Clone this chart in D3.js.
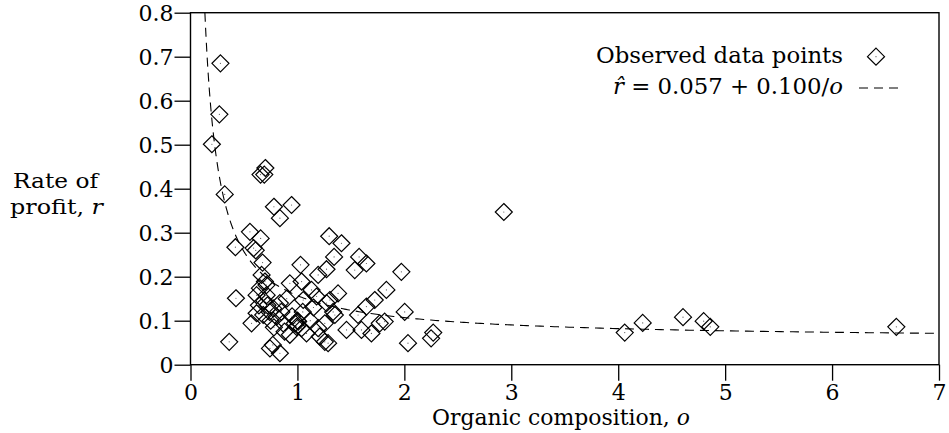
<!DOCTYPE html>
<html><head><meta charset="utf-8">
<script src="https://cdn.jsdelivr.net/npm/d3@7"></script>
<style>
html,body{margin:0;padding:0;background:#fff;}
svg text{font-family:"DejaVu Serif","Liberation Serif","Times New Roman",Times,serif;fill:#000;}
</style></head>
<body><svg id="chart" width="949" height="433"></svg>
<script>
// ---- data ----
const organic = [0.28,0.27,0.20,0.70,0.655,0.69,0.32,
 0.78,0.945,0.836,0.556,0.656,0.42,0.59,0.61,0.674,
 1.297,1.412,1.343,1.272,1.194,1.029,0.929,1.039,1.132,
 1.577,1.645,1.536,1.972,1.832,1.38,0.696,0.665,0.649,
 2.93,
 0.425,0.362,0.836,0.743,0.77,0.571,0.618,0.71,
 0.618,0.712,1.054,1.179,1.303,0.68,0.773,0.836,0.805,0.867,0.976,1.007,0.992,1.039,0.929,1.085,1.194,1.256,1.287,1.209,
 1.723,1.645,1.334,1.272,1.567,1.459,1.599,1.692,1.77,1.816,2.003,2.034,1.256,
 2.27,2.25,
 4.061,4.229,4.606,4.799,4.861,6.601,
 0.72,0.75,0.85,0.90,0.95,1.00,1.05,1.12,1.15,0.78,0.88,0.69,0.74,1.35,0.64];
const profit = [0.685,0.569,0.501,0.447,0.432,0.432,0.387,
 0.359,0.363,0.333,0.302,0.287,0.267,0.265,0.260,0.232,
 0.292,0.276,0.245,0.217,0.204,0.227,0.185,0.189,0.170,
 0.245,0.230,0.215,0.211,0.170,0.162,0.189,0.204,0.174,
 0.347,
 0.151,0.052,0.026,0.037,0.045,0.094,0.117,0.181,
 0.158,0.158,0.147,0.155,0.147,0.113,0.128,0.140,0.109,0.094,0.094,0.098,0.086,0.083,0.068,0.071,0.083,0.094,0.049,0.064,
 0.147,0.132,0.120,0.140,0.113,0.079,0.079,0.071,0.094,0.098,0.120,0.049,0.052,
 0.073,0.060,
 0.073,0.095,0.108,0.099,0.086,0.086,
 0.135,0.100,0.120,0.150,0.110,0.100,0.120,0.100,0.130,0.085,0.075,0.145,0.120,0.113,0.135];
const xTicks = [0,1,2,3,4,5,6,7];
const yTicks = [0,0.1,0.2,0.3,0.4,0.5,0.6,0.7,0.8];
const fitIntercept = 0.057;
const fitSlope = 0.100;
const legendLabels = ["Observed data points"];

// ---- chart ----
const FONT = "'DejaVu Serif','Liberation Serif','Times New Roman',serif";
const svg = d3.select("#chart");
const L = 190.5, R = 939, T = 12.7, B = 364.7;
const x = d3.scaleLinear().domain([0,7]).range([L,R]);
const y = d3.scaleLinear().domain([0,0.8]).range([B,T]);
const fs = 22;

// axes
const xa = svg.append("g").attr("transform",`translate(0,${B})`)
  .call(d3.axisBottom(x).tickValues(xTicks).tickSize(16).tickPadding(3).tickFormat(d3.format("d")));
const ya = svg.append("g").attr("transform",`translate(${L},0)`)
  .call(d3.axisLeft(y).tickValues(yTicks).tickSize(16).tickPadding(1)
    .tickFormat(d => d===0 ? "0" : d3.format(".1f")(d)));
[xa,ya].forEach(g=>{
  g.attr("font-family",FONT).attr("font-size",fs);
  g.select(".domain").remove();
  g.selectAll("line").attr("stroke","#000").attr("stroke-width",1.3);
  g.selectAll("text").style("font-family",FONT).attr("font-size",fs);
});
xa.selectAll("text").attr("dy","0.72em");
ya.selectAll("text").attr("dy","0.36em");

// frame
svg.append("rect").attr("x",L).attr("y",T).attr("width",R-L).attr("height",B-T)
  .attr("fill","none").attr("stroke","#000").attr("stroke-width",1.4);

// fit curve
const oStart = fitSlope/(0.8-fitIntercept);
const curvePts = d3.range(0,401).map(i => oStart*Math.pow(7/oStart, i/400));
svg.append("path")
  .datum(curvePts)
  .attr("fill","none").attr("stroke","#000").attr("stroke-width",1.1)
  .attr("stroke-dasharray","9,6")
  .attr("d", d3.line().x(o=>x(o)).y(o=>y(fitIntercept+fitSlope/o)));

// points
const hd = 8.5;
const diamond = (cx,cy)=>`M${cx},${cy-hd}L${cx+hd},${cy}L${cx},${cy+hd}L${cx-hd},${cy}Z`;
const pts = organic.map((o,i)=>({o, r:profit[i]}));
svg.append("g").selectAll("path").data(pts).join("path")
  .attr("d", d=>diamond(x(d.o),y(d.r)))
  .attr("fill","none").attr("stroke","#000").attr("stroke-width",1.2);
svg.append("g").selectAll("circle").data(pts).join("circle")
  .attr("cx", d=>x(d.o)).attr("cy", d=>y(d.r)).attr("r",0.6).attr("fill","#555");

// legend
svg.append("text").attr("x",843).attr("y",62.5).attr("text-anchor","end")
  .attr("font-size",fs).style("font-family",FONT).attr("textLength",247).attr("lengthAdjust","spacingAndGlyphs")
  .text(legendLabels[0]);
svg.append("path").attr("d",diamond(876,56.7)).attr("fill","none").attr("stroke","#000").attr("stroke-width",1.2);
svg.append("circle").attr("cx",876).attr("cy",56.7).attr("r",0.6).attr("fill","#555");

const l2 = svg.append("text").attr("x",843).attr("y",93.5).attr("text-anchor","end")
  .attr("font-size",fs).style("font-family",FONT).attr("textLength",230).attr("lengthAdjust","spacingAndGlyphs");
l2.append("tspan").attr("font-style","italic").text("r\u0302");
l2.append("tspan").text(` = ${fitIntercept.toFixed(3)} + ${fitSlope.toFixed(3)}/`);
l2.append("tspan").attr("font-style","italic").text("o");
svg.append("line").attr("x1",859).attr("x2",903).attr("y1",88).attr("y2",88)
  .attr("stroke","#000").attr("stroke-width",1.1).attr("stroke-dasharray","9,6");

// axis titles
const xt = svg.append("text").attr("x",561).attr("y",425).attr("text-anchor","middle")
  .attr("font-size",fs).style("font-family",FONT).attr("textLength",258).attr("lengthAdjust","spacingAndGlyphs");
xt.append("tspan").text("Organic composition, ");
xt.append("tspan").attr("font-style","italic").text("o");

svg.append("text").attr("x",55.5).attr("y",188).attr("text-anchor","middle")
  .attr("font-size",21).style("font-family",FONT).attr("textLength",85).attr("lengthAdjust","spacingAndGlyphs").text("Rate of");
const yt = svg.append("text").attr("x",56.5).attr("y",213.5).attr("text-anchor","middle")
  .attr("font-size",21).style("font-family",FONT).attr("textLength",93).attr("lengthAdjust","spacingAndGlyphs");
yt.append("tspan").text("profit, ");
yt.append("tspan").attr("font-style","italic").text("r");
</script></body></html>
